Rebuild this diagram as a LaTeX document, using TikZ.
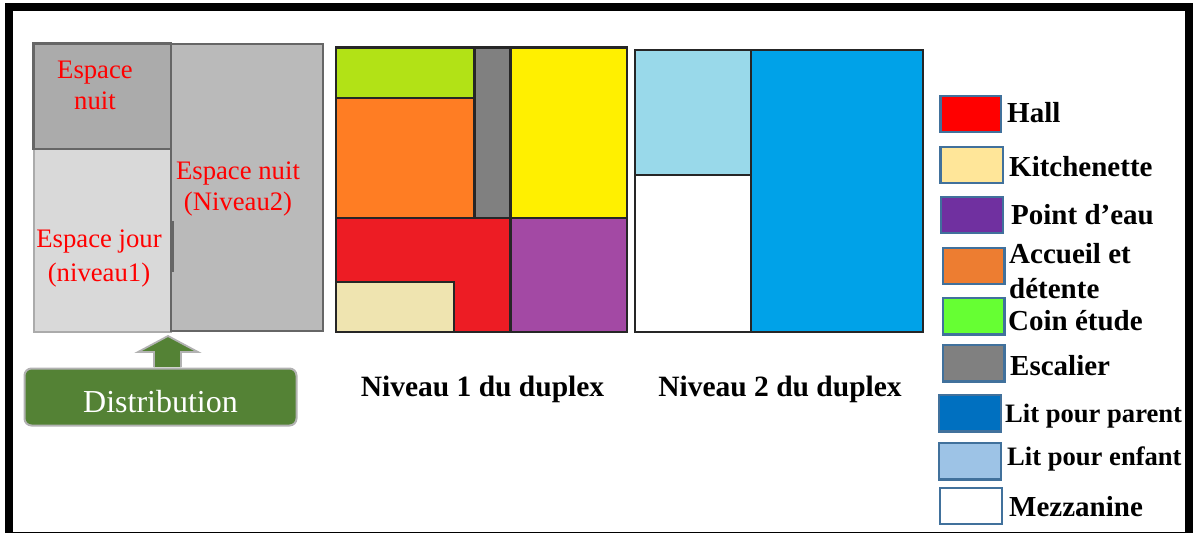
\documentclass[tikz,border=0pt]{standalone}
\usepackage{fontspec}
\setmainfont{Liberation Serif}
\definecolor{darkwall}{HTML}{666666}
\definecolor{greenbox}{HTML}{548235}
\definecolor{swatchline}{HTML}{41719C}
\tikzset{
  room/.style={draw=black!85, line width=2.2pt},
  swatch/.style={draw=swatchline, line width=2.6pt},
  redlabel/.style={text=red, align=center, inner sep=0pt, anchor=base, font=\fontsize{26.7}{31}\selectfont},
  keylabel/.style={inner sep=0pt, anchor=base west, font=\fontsize{29}{35}\selectfont\bfseries},
  smallkey/.style={keylabel, font=\fontsize{26.6}{31}\selectfont\bfseries},
  planlabel/.style={inner sep=0pt, anchor=base, font=\fontsize{29.5}{35}\selectfont\bfseries}
}
\begin{document}
\begin{tikzpicture}[x=1pt,y=-1pt]
\useasboundingbox (0,0) rectangle (1195,533);
% frame
\fill[black] (5,3) rectangle (1193,11);
\fill[black] (5,3) rectangle (13,533);
\fill[black] (1185,3) rectangle (1193,533);
\fill[black] (13,531.5) rectangle (1185,533);
% zones
\draw[draw=black!33, line width=2pt, fill=black!15] (33.5,149) rectangle (171,332);
\draw[draw=darkwall, line width=2.2pt, fill=black!27] (171,44) rectangle (323,331);
\draw[draw=darkwall, line width=2.4pt, fill=black!33] (33.5,43.5) rectangle (171,149);
\draw[draw=darkwall, line width=2pt] (173,221) -- (173,272);
\node[redlabel] (nuitun) at (95,109) {Espace\\nuit};
\node[redlabel] (nuitdeux) at (238,210) {Espace nuit\\(Niveau2)};
\node[redlabel] (jour) at (99,281) {Espace jour\\[3pt](niveau1)};
% distribution
\node[draw=black!30, line width=2pt, fill=greenbox, rounded corners=7pt, minimum width=272pt, minimum height=57pt, inner sep=0pt] (distribution) at (160.5,397) {};
\node[text=white, inner sep=0pt, anchor=base, font=\fontsize{32}{36}\selectfont] (distributiontext) at (160.5,412) {Distribution};
\draw[draw=black!30, line width=1.8pt, fill=greenbox] (154,367) -- (154,352) -- (138,352) -- (168,336) -- (198,352) -- (181,352) -- (181,367);
% niveau 1
\draw[room, fill={rgb,255:red,178;green,226;blue,22}] (336,47.5) rectangle (474.5,98);
\draw[room, fill={rgb,255:red,255;green,125;blue,35}] (336,98) rectangle (474.5,218);
\draw[room, fill={rgb,255:red,128;green,128;blue,128}] (474.5,47.5) rectangle (510.5,218);
\draw[room, fill={rgb,255:red,255;green,240;blue,0}] (510.5,47.5) rectangle (627,218);
\draw[room, fill={rgb,255:red,237;green,28;blue,36}] (336,218) rectangle (510.5,332);
\draw[room, fill={rgb,255:red,163;green,73;blue,164}] (510.5,218) rectangle (627,332);
\draw[room, fill={rgb,255:red,239;green,228;blue,176}] (336,282) rectangle (454,332);
\node[planlabel] (niveauun) at (482.5,396) {Niveau 1 du duplex};
% niveau 2
\draw[room, fill={rgb,255:red,153;green,217;blue,234}] (635,50) rectangle (751,175);
\draw[room, fill=white] (635,175) rectangle (751,332);
\draw[room, fill={rgb,255:red,0;green,162;blue,232}] (751,50) rectangle (923,332);
\node[planlabel] (niveaudeux) at (780,396) {Niveau 2 du duplex};
% legende
\draw[swatch, fill=red] (940.5,96) rectangle (1001,132);
\draw[swatch, fill={rgb,255:red,255;green,230;blue,153}] (940.5,147) rectangle (1003,183);
\draw[swatch, fill={rgb,255:red,112;green,48;blue,160}] (941,197) rectangle (1003,233);
\draw[swatch, fill={rgb,255:red,237;green,125;blue,49}] (943,248) rectangle (1004.5,284);
\draw[swatch, fill={rgb,255:red,102;green,255;blue,51}] (943,298) rectangle (1004.5,334.5);
\draw[swatch, fill={rgb,255:red,128;green,128;blue,128}] (943,345) rectangle (1004.5,381.5);
\draw[swatch, fill={rgb,255:red,0;green,112;blue,192}] (939,395) rectangle (1001,431.5);
\draw[swatch, fill={rgb,255:red,157;green,195;blue,230}] (939,443) rectangle (1001,479.5);
\draw[swatch, fill=white] (940,488) rectangle (1002,524);
\node[keylabel] (hall) at (1007,122) {Hall};
\node[keylabel] (kitchenette) at (1009,176) {Kitchenette};
\node[keylabel] (point) at (1011,224) {Point d’eau};
\node[keylabel] (accueil) at (1009,263) {Accueil et};
\node[keylabel] (detente) at (1009,298) {détente};
\node[keylabel] (coin) at (1008,330) {Coin étude};
\node[keylabel] (escalier) at (1010,375) {Escalier};
\node[smallkey] (parent) at (1005,422) {Lit pour parent};
\node[smallkey] (enfant) at (1007,465) {Lit pour enfant};
\node[keylabel] (mezzanine) at (1009,516) {Mezzanine};
\end{tikzpicture}
\end{document}
